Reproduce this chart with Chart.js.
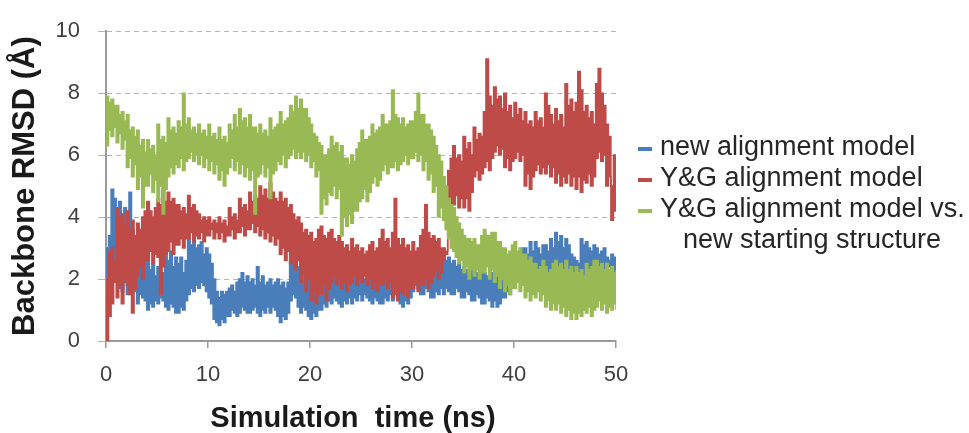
<!DOCTYPE html>
<html>
<head>
<meta charset="utf-8">
<script src="https://cdn.jsdelivr.net/npm/chart.js@4"></script>
<style>
  body { margin: 0; background: #fff; }
  #wrap { position: relative; width: 969px; height: 433px; }
  #legend {
    position: absolute; left: 638px; top: 131px;
    font-family: "Liberation Sans", Arial, sans-serif; font-size: 27px;
    line-height: 31px; color: #262626;
  }
  .row { display: flex; align-items: center; white-space: nowrap; }
  .row i { display: inline-block; width: 14px; height: 4px; margin: 4px 8px 0 0; }
  .row.cont { padding-left: 45px; }
</style>
</head>
<body>
<div id="wrap">
  <canvas id="rmsdChart" width="969" height="433"></canvas>
  <div id="legend"></div>
</div>
<script>
// simulation time sampled every 0.25 ns, 0..50 ns
const timeStepNs = 0.25;
const xTickValues = [0, 10, 20, 30, 40, 50];
const yTickValues = [0, 2, 4, 6, 8, 10];

const seriesNames = [
  ["new alignment model"],
  ["Y&G alignment model"],
  ["Y&G alignment model vs.", "new starting structure"]
];
const seriesColors = ["#4a7ebb", "#be4b48", "#98b954"];

// RMSD (Å): top and bottom of each noisy trace, 4 samples per ns
const newAlignHigh = [
  3.0, 3.4, 4.9, 4.6,  4.0, 4.5, 3.6, 4.3,  3.8, 4.8, 3.6, 3.2,  2.9, 3.2, 2.6, 2.8,
  2.6, 2.3, 2.5, 2.1,  2.4, 2.0, 2.2, 2.9,  2.6, 2.9, 2.4, 2.7,  2.5, 2.7, 2.2, 2.6,
  3.3, 3.1, 3.2, 3.0,  3.1, 3.2, 2.8, 3.0,  2.8, 2.5, 2.0, 1.6,  1.4, 1.6, 1.5, 1.6,
  1.7, 1.8, 1.6, 1.9,  2.0, 2.2, 1.9, 2.1,  1.9, 2.0, 1.8, 2.4,  1.9, 2.1, 1.8, 1.9,
  2.0, 1.8, 1.9, 2.0,  1.8, 1.9, 1.7, 1.9,  2.6, 2.9, 2.7, 2.4,  2.3, 2.4, 2.1, 2.0,
  1.9, 2.0, 1.8, 2.2,  2.3, 2.1, 2.2, 2.4,  2.5, 2.2, 2.3, 2.1,  2.4, 2.2, 2.0, 2.3,
  2.3, 2.1, 2.2, 2.0,  2.2, 2.0, 2.1, 2.2,  2.1, 1.9, 2.0, 2.1,  2.0, 2.2, 1.9, 2.1,
  2.2, 2.0, 2.1, 2.3,  2.4, 2.2, 2.5, 2.6,  2.8, 2.6, 2.7, 2.9,  3.0, 2.7, 2.8, 3.1,
  3.3, 2.9, 2.8, 2.7,  2.8, 2.6, 2.7, 2.5,  2.6, 2.4, 2.5, 2.3,  2.4, 2.3, 2.2, 2.3,
  2.3, 2.2, 2.1, 2.2,  2.2, 2.1, 2.0, 2.2,  2.5, 2.3, 2.4, 2.6,  2.7, 2.5, 2.6, 2.8,
  2.8, 2.6, 2.9, 3.0,  3.0, 2.8, 3.2, 2.9,  3.2, 3.0, 2.8, 3.1,  3.1, 2.9, 3.3, 3.0,
  3.5, 3.2, 3.4, 3.0,  3.3, 3.1, 2.8, 2.7,  2.6, 2.5, 3.3, 3.1,  3.2, 3.0, 2.9, 3.1,
  3.0, 2.8, 2.9, 3.0,  2.7, 2.6, 2.8, 2.7,  2.6
];
const newAlignLow = [
  2.0, 2.4, 2.3, 2.6,  2.0, 1.7, 1.6, 1.9,  1.5, 1.8, 1.7, 1.6,  1.2, 1.5, 1.4, 1.3,
  1.0, 1.2, 1.1, 1.3,  1.2, 1.4, 1.3, 1.1,  1.0, 1.2, 1.1, 0.9,  0.9, 1.1, 1.0, 1.3,
  1.5, 1.7, 1.6, 1.8,  1.7, 1.9, 1.8, 1.6,  1.4, 1.2, 0.7, 0.6,  0.5, 0.7, 0.6, 0.8,
  0.8, 1.0, 0.9, 0.8,  0.9, 1.1, 1.0, 0.9,  0.9, 1.0, 1.1, 0.9,  0.8, 1.0, 0.9, 1.1,
  0.9, 1.1, 1.0, 0.8,  0.6, 0.8, 0.7, 0.9,  1.3, 1.5, 1.4, 1.1,  0.9, 1.1, 1.0, 0.8,
  0.7, 0.9, 0.8, 1.0,  1.0, 1.2, 1.1, 1.3,  1.2, 1.4, 1.3, 1.2,  1.1, 1.3, 1.2, 1.4,
  1.2, 1.4, 1.3, 1.5,  1.3, 1.5, 1.4, 1.3,  1.2, 1.4, 1.3, 1.2,  1.2, 1.4, 1.3, 1.5,
  1.3, 1.5, 1.4, 1.2,  1.1, 1.3, 1.2, 1.4,  1.6, 1.8, 1.7, 1.5,  1.5, 1.7, 1.6, 1.4,
  1.4, 1.6, 1.5, 1.7,  1.5, 1.7, 1.6, 1.5,  1.5, 1.7, 1.6, 1.4,  1.4, 1.6, 1.5, 1.3,
  1.3, 1.5, 1.4, 1.2,  1.2, 1.4, 1.3, 1.1,  1.3, 1.1, 1.2, 1.4,  1.4, 1.6, 1.5, 1.7,
  1.9, 2.1, 2.0, 1.8,  2.0, 2.2, 2.1, 1.9,  1.8, 2.0, 1.9, 2.1,  2.0, 2.2, 2.1, 1.9,
  2.0, 2.2, 2.1, 1.8,  1.6, 1.8, 1.7, 1.9,  1.5, 1.7, 1.6, 1.8,  1.8, 2.0, 1.9, 2.1,
  2.1, 2.3, 2.2, 2.0,  2.3, 2.4, 2.3, 2.2,  2.4
];

const ygAlignHigh = [
  2.0, 2.9, 3.0, 2.6,  4.3, 4.0, 4.1, 3.8,  4.2, 3.6, 3.9, 3.4,  3.8, 3.6, 4.0, 4.2,
  4.5, 4.2, 4.0, 4.3,  4.6, 4.4, 4.9, 4.5,  4.8, 4.5, 4.6, 4.4,  4.4, 4.2, 4.3, 4.1,
  4.7, 4.3, 4.4, 4.2,  4.1, 3.9, 4.0, 3.9,  4.0, 3.8, 3.9, 3.8,  4.0, 3.8, 3.9, 3.7,
  4.3, 4.0, 4.1, 3.9,  4.6, 4.3, 4.4, 4.2,  4.8, 4.5, 4.7, 4.6,  5.0, 4.7, 4.9, 4.6,
  5.1, 4.8, 4.6, 4.5,  4.8, 4.5, 4.6, 4.3,  4.4, 4.1, 3.9, 4.0,  3.8, 3.5, 3.6, 3.4,
  3.5, 3.2, 3.3, 3.6,  3.7, 3.4, 3.3, 3.5,  3.6, 3.3, 3.2, 3.4,  3.2, 3.0, 3.1, 2.9,
  3.3, 3.0, 3.1, 2.9,  3.0, 2.8, 2.9, 3.1,  3.2, 2.9, 3.0, 3.3,  3.6, 3.2, 3.3, 3.0,
  3.5, 4.6, 3.3, 3.1,  3.3, 3.0, 3.1, 2.9,  3.2, 2.9, 3.0, 3.4,  3.6, 4.4, 3.5, 3.3,
  3.4, 3.2, 3.3, 3.0,  3.0, 2.9, 5.5, 5.9,  6.3, 5.9, 6.0, 5.8,  6.6, 6.2, 6.4, 6.0,
  6.9, 6.5, 6.7, 6.6,  7.4, 9.1, 7.9, 7.6,  8.2, 7.8, 7.9, 7.5,  8.0, 7.4, 7.6, 7.2,
  7.7, 7.3, 7.5, 7.1,  7.4, 7.0, 7.1, 6.9,  7.4, 7.1, 7.2, 6.9,  8.0, 7.6, 7.3, 7.0,
  7.5, 7.1, 7.3, 6.9,  8.3, 7.6, 7.8, 7.4,  7.7, 8.7, 8.1, 7.4,  7.6, 7.2, 7.4, 7.0,
  8.3, 8.8, 8.0, 7.6,  7.0, 6.6, 5.0, 6.0,  6.0
];
const ygAlignLow = [
  0.0, 0.8, 1.2, 1.9,  1.4, 1.8, 1.2, 2.0,  1.8, 1.5, 0.9, 1.7,  2.1, 2.4, 2.0, 2.6,
  2.6, 2.9, 2.5, 2.8,  2.7, 1.5, 2.4, 2.8,  2.9, 3.2, 2.8, 3.1,  3.1, 3.3, 3.0, 3.3,
  3.3, 3.5, 3.2, 3.4,  3.3, 3.5, 3.2, 3.4,  3.4, 3.6, 3.3, 3.5,  3.3, 3.5, 3.2, 3.4,
  3.4, 3.6, 3.3, 3.5,  3.5, 3.7, 3.4, 3.6,  3.6, 3.8, 3.5, 3.7,  3.4, 3.6, 3.3, 3.5,
  3.2, 3.4, 3.1, 3.3,  2.8, 3.0, 2.6, 2.9,  2.5, 2.7, 2.3, 2.6,  1.9, 2.2, 1.6, 2.0,
  1.3, 1.6, 1.2, 1.5,  1.5, 1.8, 1.3, 1.7,  1.9, 2.1, 1.8, 2.0,  1.7, 1.9, 1.6, 1.8,
  1.9, 2.1, 1.8, 2.0,  1.9, 2.1, 1.8, 2.0,  1.7, 1.9, 1.6, 1.8,  1.8, 2.0, 1.7, 1.9,
  1.4, 1.7, 1.3, 1.6,  1.5, 1.8, 1.4, 1.7,  1.7, 1.9, 1.6, 1.8,  1.8, 2.0, 1.7, 1.9,
  2.1, 2.3, 2.0, 2.2,  2.6, 2.8, 4.5, 4.4,  4.4, 4.7, 4.3, 4.6,  4.3, 4.6, 4.2, 4.8,
  5.3, 5.5, 5.2, 5.4,  5.6, 5.8, 5.5, 5.9,  6.1, 6.3, 6.0, 6.2,  5.6, 5.9, 5.5, 5.8,
  5.9, 6.1, 5.8, 6.0,  5.0, 5.4, 4.9, 5.3,  5.5, 5.7, 5.4, 5.6,  5.4, 5.7, 5.3, 5.6,
  5.1, 5.4, 5.0, 5.3,  5.1, 5.4, 5.0, 5.3,  4.9, 5.3, 4.8, 5.2,  5.1, 5.4, 5.0, 5.3,
  5.9, 6.1, 5.8, 6.0,  5.0, 5.3, 3.9, 4.2,  4.5
];

const ygVsNewHigh = [
  7.9, 7.7, 7.8, 7.6,  7.6, 7.3, 7.4, 7.1,  7.3, 6.8, 6.9, 6.6,  6.8, 6.3, 6.5, 6.1,
  6.5, 6.2, 6.3, 6.0,  7.0, 6.5, 6.6, 6.4,  7.2, 6.8, 6.9, 6.7,  7.1, 6.9, 8.0, 7.0,
  7.2, 6.8, 6.9, 6.7,  7.0, 6.7, 6.8, 6.6,  7.0, 6.6, 6.7, 6.5,  6.9, 6.5, 6.6, 6.4,
  7.0, 6.8, 7.3, 6.9,  7.5, 7.1, 7.2, 6.9,  7.3, 6.9, 6.9, 6.7,  7.0, 6.7, 6.8, 6.6,
  7.2, 6.8, 6.9, 7.0,  7.4, 7.0, 7.1, 7.2,  7.6, 7.4, 7.9, 7.5,  7.8, 7.5, 7.5, 7.2,
  7.0, 6.7, 6.6, 6.4,  6.3, 6.0, 6.0, 6.2,  6.6, 6.3, 6.4, 6.1,  6.3, 5.9, 5.9, 5.7,
  6.0, 5.8, 6.2, 6.4,  6.8, 6.5, 6.5, 6.6,  7.0, 6.7, 6.8, 6.9,  7.3, 7.0, 7.0, 7.1,
  8.1, 7.3, 7.2, 7.0,  7.2, 6.9, 7.0, 7.1,  7.1, 7.4, 8.0, 7.3,  7.3, 7.0, 7.0, 6.8,
  6.6, 6.3, 6.0, 5.8,  5.3, 5.0, 4.6, 4.4,  4.3, 4.0, 3.8, 3.6,  3.4, 3.3, 3.3, 3.2,
  3.3, 3.1, 3.1, 3.4,  3.6, 3.4, 3.4, 3.5,  3.5, 3.2, 3.2, 3.0,  3.0, 2.8, 2.9, 3.1,
  3.2, 2.9, 3.0, 2.8,  2.8, 2.6, 2.7, 2.5,  2.5, 2.3, 2.4, 2.6,  2.4, 2.2, 2.3, 2.5,
  2.6, 2.4, 2.5, 2.3,  2.6, 2.3, 2.4, 2.2,  2.4, 2.2, 2.3, 2.1,  2.5, 2.3, 2.4, 2.6,
  2.6, 2.4, 2.5, 2.3,  2.5, 2.3, 2.4, 2.2,  2.3
];
const ygVsNewLow = [
  6.3, 6.8, 6.6, 6.9,  6.4, 6.7, 6.2, 6.5,  5.6, 5.9, 5.3, 5.7,  4.9, 5.3, 4.3, 5.0,
  5.0, 5.4, 4.8, 5.2,  4.5, 5.0, 4.1, 4.9,  5.3, 5.6, 5.4, 5.7,  5.6, 5.9, 5.5, 5.8,
  5.9, 6.1, 5.8, 6.0,  5.7, 6.0, 5.6, 5.9,  5.5, 5.8, 5.4, 5.7,  5.2, 5.5, 5.0, 5.4,
  5.6, 5.9, 5.5, 5.8,  5.4, 5.7, 5.3, 5.6,  5.2, 5.5, 4.1, 5.3,  5.4, 5.7, 5.3, 5.6,
  4.6, 5.4, 5.5, 5.8,  5.7, 6.0, 5.6, 5.9,  6.0, 6.2, 5.9, 6.1,  5.9, 6.1, 5.8, 6.0,
  5.6, 5.8, 5.3, 5.5,  4.1, 4.6, 4.4, 4.8,  4.7, 5.0, 4.6, 4.9,  3.4, 4.0, 3.7, 4.1,
  3.8, 4.2, 4.2, 4.5,  4.6, 4.9, 4.5, 4.8,  5.1, 5.3, 5.0, 5.2,  5.5, 5.7, 5.4, 5.6,
  5.6, 5.8, 5.5, 5.7,  5.8, 6.0, 5.7, 5.9,  5.9, 6.1, 5.8, 6.0,  5.5, 5.8, 5.2, 5.4,
  4.8, 5.0, 4.0, 4.3,  3.9, 3.6, 3.3, 3.0,  2.9, 2.7, 2.5, 2.6,  2.2, 2.4, 2.0, 2.3,
  2.1, 2.3, 2.0, 2.2,  2.2, 2.4, 2.0, 2.3,  1.9, 2.1, 1.7, 2.0,  1.6, 1.8, 1.5, 1.7,
  1.7, 1.9, 1.6, 1.8,  1.4, 1.6, 1.3, 1.5,  1.4, 1.6, 1.3, 1.5,  1.1, 1.3, 1.0, 1.2,
  1.0, 1.2, 0.9, 1.1,  0.8, 1.0, 0.7, 0.9,  0.7, 0.9, 0.8, 1.0,  0.9, 1.1, 0.8, 1.0,
  1.1, 1.3, 1.0, 1.2,  0.9, 1.1, 1.0, 1.2,  1.0
];

const seriesHigh = [newAlignHigh, ygAlignHigh, ygVsNewHigh];
const seriesLow = [newAlignLow, ygAlignLow, ygVsNewLow];
const drawOrder = [3, 2, 1]; // green on top, then red, blue underneath

function toPoints(values) {
  return values.map((v, i) => ({ x: i * timeStepNs, y: v }));
}

// each trace is a band filled between its high and low edges
const datasets = [];
seriesHigh.forEach((high, i) => {
  const common = {
    borderColor: seriesColors[i],
    backgroundColor: seriesColors[i],
    borderWidth: 1.5,
    pointRadius: 0,
    stepped: true,
    order: drawOrder[i]
  };
  datasets.push({ ...common, label: seriesNames[i].join(" "), data: toPoints(high), fill: "+1" });
  datasets.push({ ...common, label: seriesNames[i].join(" ") + " low", data: toPoints(seriesLow[i]), fill: false });
});

const fontFamily = "'Liberation Sans', Arial, sans-serif";
const tickFont = { family: fontFamily, size: 22 };

new Chart(document.getElementById("rmsdChart"), {
  type: "line",
  data: { datasets },
  options: {
    responsive: false,
    animation: false,
    devicePixelRatio: 1,
    layout: { padding: { left: 0, top: 23, right: 353, bottom: 0 } },
    plugins: { legend: { display: false }, tooltip: { enabled: false } },
    scales: {
      x: {
        type: "linear",
        min: 0,
        max: 50,
        afterBuildTicks: s => { s.ticks = xTickValues.map(v => ({ value: v })); },
        afterFit: s => { s.height = 92; },
        grid: { drawOnChartArea: false, drawTicks: true, tickLength: 7, color: "#9a9a9a", lineWidth: 1.5 },
        border: { color: "#9a9a9a", width: 2 },
        ticks: { font: tickFont, color: "#404040", padding: 14, maxRotation: 0 },
        title: {
          display: true, text: "Simulation  time (ns)  ", color: "#1a1a1a", padding: 0,
          font: { family: fontFamily, size: 29, weight: "bold", lineHeight: 1 }
        }
      },
      y: {
        min: 0,
        max: 10,
        afterBuildTicks: s => { s.ticks = yTickValues.map(v => ({ value: v })); },
        afterFit: s => { s.width = 106; },
        grid: { color: "#b4b4b4", lineWidth: 1, tickLength: 8 },
        border: { color: "#9a9a9a", width: 2, dash: [5, 4] },
        ticks: { font: tickFont, color: "#404040", padding: 18 },
        title: {
          display: true, text: "Backbone RMSD (Å)", color: "#1a1a1a", padding: { top: 10, bottom: 0 },
          font: { family: fontFamily, size: 31, weight: "bold", lineHeight: 1 }
        }
      }
    }
  }
});

// legend beside the plot, as in the original figure
const legendEl = document.getElementById("legend");
legendEl.innerHTML = seriesNames.map((lines, i) => lines.map((line, j) => j === 0
  ? `<div class="row"><i style="background:${seriesColors[i]}"></i>${line}</div>`
  : `<div class="row cont">${line}</div>`).join("")).join("");
</script>
</body>
</html>
